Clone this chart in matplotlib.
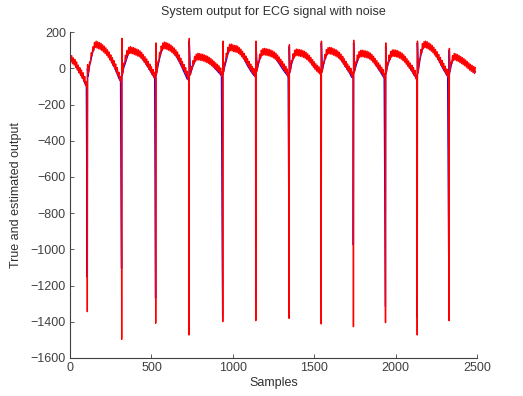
import numpy as np
import matplotlib
matplotlib.use("Agg")
import matplotlib.pyplot as plt

plt.rcParams['font.family'] = ['Liberation Sans', 'DejaVu Sans']

# ---- data ----
spike_pos = [106, 317, 526, 731, 938, 1141, 1346, 1543, 1741, 1938, 2133, 2329]
est_min = [-1344, -1497, -1408, -1473, -1399, -1394, -1381, -1412, -1427, -1405, -1473, -1394]
est_peak = [20, 165, 140, 165, 150, 150, 130, 150, 155, 140, 150, 110]
true_min = [-1153, -1105, -1269, -1316, -1372, -1289, -1077, -1040, -976, -1316, -1372, -1390]
true_peak = [0, 150, 120, 150, 130, 140, 120, 140, 140, 120, 140, 100]

# estimated output baseline (noisy), every 5 samples from 0 to 2490
est_base = [
    80, 35, 70, 25, 58, 18, 48, 5, 35, -10, 18, -25, 3, -40, -10, -55, -25, -72, -45, -95, -75, -120,
    -30, -15, 35, 30, 85, 72, 118, 98, 142, 115, 150, 112, 146, 108, 142, 104, 138, 98, 130, 90,
    122, 82, 113, 72, 102, 60, 90, 46, 74, 30, 58, 14, 42, -4, 24, -22, 4, -42, -22, -65, -45, -85,
    -35, -20, 28, 22, 72, 48, 98, 72, 115, 82, 120, 82, 116, 80, 114, 76, 110, 72, 106, 68,
    102, 64, 96, 56, 88, 46, 76, 34, 64, 22, 52, 9, 38, -6, 23, -20, 8, -36, -7, -51, -22, -60,
    -30, -15, 38, 35, 88, 70, 123, 97, 140, 107, 145, 108, 142, 104, 138, 100, 134, 95, 128, 88,
    120, 80, 112, 71, 102, 60, 90, 46, 74, 29, 56, 11, 38, -7, 21, -24, 3, -43, -17, -64, -45,
    -40, -32, 10, -5, 42, 22, 66, 37, 78, 45, 83, 46, 81, 44, 79, 42, 77, 40, 74, 36,
    70, 32, 66, 27, 60, 21, 54, 14, 46, 6, 38, -2, 30, -10, 22, -18, 14, -28, 2, -42, -20,
    -25, -15, 33, 32, 83, 64, 116, 90, 132, 98, 134, 96, 130, 92, 126, 90, 126, 88, 122, 82,
    114, 74, 105, 64, 94, 52, 82, 39, 68, 24, 53, 9, 38, -6, 23, -20, 10, -32, -2, -45, -25,
    -20, -10, 38, 32, 78, 54, 100, 70, 109, 74, 110, 73, 108, 71, 106, 69, 104, 66, 100, 62,
    96, 57, 90, 51, 83, 42, 73, 32, 62, 20, 50, 8, 38, -5, 24, -18, 11, -32, -4, -48, -28,
    -20, -5, 43, 35, 80, 56, 100, 68, 106, 70, 105, 68, 103, 66, 101, 64, 98, 60, 94, 55,
    88, 48, 80, 40, 71, 30, 60, 18, 48, 6, 36, -6, 25, -16, 16, -24, 8, -32, -5,
    -25, -15, 33, 27, 76, 54, 103, 74, 114, 80, 116, 79, 114, 76, 110, 72, 106, 68, 102, 63,
    96, 56, 88, 47, 78, 36, 66, 23, 52, 9, 38, -5, 24, -18, 12, -30, 0, -44, -20, -60,
    -25, -10, 35, 27, 73, 48, 92, 61, 99, 64, 100, 63, 98, 61, 96, 59, 94, 56, 90, 51,
    84, 44, 76, 35, 66, 24, 54, 12, 42, 0, 30, -12, 18, -24, 6, -36, -8, -54, -30,
    -30, -15, 33, 25, 73, 48, 93, 62, 101, 66, 102, 65, 100, 63, 98, 60, 94, 56, 89, 50,
    83, 43, 75, 34, 65, 23, 53, 11, 41, -1, 29, -13, 17, -26, 3, -40, -12, -58, -37,
    -30, -10, 48, 47, 103, 84, 136, 108, 148, 114, 150, 112, 146, 107, 140, 101, 134, 94, 126, 85,
    116, 74, 104, 62, 91, 48, 76, 32, 60, 16, 44, 0, 28, -16, 12, -32, -4, -48, -20,
    -30, -15, 33, 25, 70, 42, 82, 46, 80, 42, 76, 38, 71, 32, 65, 26, 59, 20, 53, 14,
    46, 6, 38, -2, 30, -10, 22, -17, 16, -23, 10, -29, 4,
]

# true output baseline, every 10 samples from 0 to 2490
true_base = [
    75, 50, 35, 25, 5, -10, -25, -40, -55, -80, -100,
    -45, 15, 55, 92, 120, 126, 118, 124, 112, 108, 98, 90, 78, 62, 48, 28, 10, -10, -32, -55, -72,
    -40, 5, 30, 60, 88, 95, 90, 98, 88, 84, 78, 70, 60, 48, 35, 20, 5, -10, -25, -40, -55,
    -35, 15, 55, 90, 115, 125, 118, 120, 110, 104, 95, 84, 70, 55, 38, 20, 0, -20, -40, -60,
    -50, -30, 0, 25, 45, 58, 62, 55, 60, 52, 50, 45, 38, 30, 20, 12, 0, -10, -20, -30, -40,
    -30, 10, 45, 80, 105, 115, 108, 105, 110, 100, 92, 80, 68, 50, 32, 15, 0, -15, -28, -40,
    -35, -5, 35, 60, 82, 90, 85, 88, 80, 78, 72, 65, 58, 46, 32, 18, 4, -10, -22, -35, -45,
    -25, 20, 50, 72, 85, 82, 86, 78, 76, 70, 64, 55, 45, 32, 20, 8, -2, -10, -18, -25,
    -10, 30, 62, 85, 95, 90, 92, 84, 80, 74, 66, 55, 42, 28, 12, 0, -15, -30, -50,
    -40, -10, 25, 50, 70, 78, 75, 78, 72, 70, 64, 55, 45, 32, 18, 4, -10, -25, -40, -55,
    -30, 10, 40, 62, 78, 82, 76, 80, 72, 68, 60, 50, 40, 26, 12, 0, -15, -30, -45, -60,
    -10, 50, 90, 118, 132, 128, 130, 120, 112, 100, 88, 72, 55, 36, 18, 0, -15, -30, -45,
    -35, 10, 45, 62, 65, 58, 60, 50, 48, 38, 30, 22, 12, 5, -2, -10, -20,
]

# ---- assemble series ----
def build(step, base, pos, mins, peaks, shift):
    xb = np.arange(len(base)) * step
    xs = np.array(pos, dtype=float) + shift
    x = np.concatenate([xb, xs, xs + 1.5])
    y = np.concatenate([np.array(base, float), np.array(mins, float), np.array(peaks, float)])
    order = np.argsort(x, kind='stable')
    return x[order], y[order]

xt, yt = build(10, true_base, spike_pos, true_min, true_peak, -0.7)
xe, ye = build(5, est_base, spike_pos, est_min, est_peak, 0.0)

fig = plt.figure(figsize=(5.23, 3.96), dpi=100)
ax = fig.add_axes([0.134, 0.096, 0.778, 0.823])
ax.plot(xt, yt, color='#0000ff', lw=1.0)
ax.plot(xe, ye, color='#ff0000', lw=1.0)

ax.set_xlim(0, 2500)
ax.set_ylim(-1600, 200)
ax.set_xticks(np.arange(0, 2501, 500))
ax.set_yticks(np.arange(-1600, 201, 200))
for s in ['top', 'right']:
    ax.spines[s].set_visible(False)
for s in ['left', 'bottom']:
    ax.spines[s].set_color('#404040')
    ax.spines[s].set_linewidth(0.8)
ax.tick_params(direction='in', length=3, width=0.6, colors='#404040', labelsize=9, pad=3)
ax.set_title('System output for ECG signal with noise', fontsize=9, color='#303030', pad=12)
ax.set_xlabel('Samples', fontsize=9, color='#303030', labelpad=2)
ax.set_ylabel('True and estimated output', fontsize=9, color='#303030', labelpad=6)

fig.savefig('out.png', dpi=100)
